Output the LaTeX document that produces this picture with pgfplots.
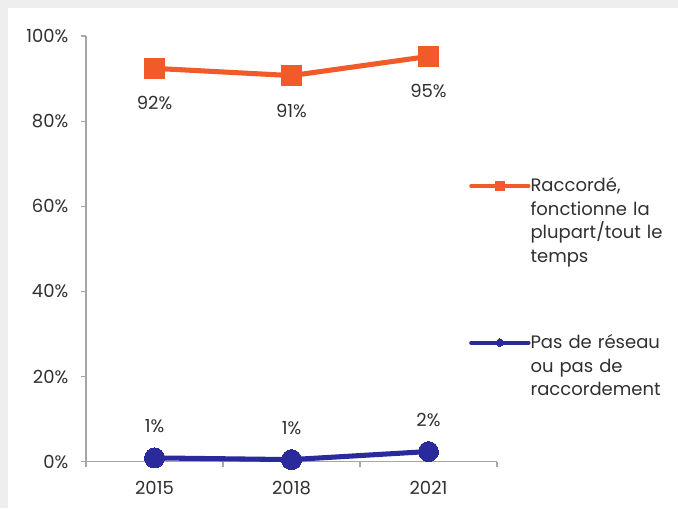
\documentclass[border=0pt]{standalone}
\usepackage{fontspec}
\setmainfont{Poppins}
\usepackage{pgfplots}
\pgfplotsset{compat=1.18}
\definecolor{orangeS}{HTML}{F15A29}
\definecolor{navyS}{HTML}{2A2A9C}
\definecolor{bandgray}{HTML}{EEEEEE}
\definecolor{axisgray}{HTML}{A6A6A6}
\definecolor{txt}{HTML}{303030}
\begin{document}
\begin{tikzpicture}
\fill[bandgray] (0,0) rectangle (508.5pt,381pt);
\fill[white] (6pt,0) rectangle (508.5pt,375pt);
\begin{axis}[
  at={(64.5pt,34.7pt)}, anchor=south west,
  scale only axis, width=308.25pt, height=319.3pt,
  xmin=-0.5, xmax=2.5, ymin=0, ymax=100,
  axis x line*=bottom, axis y line*=left,
  axis line style={axisgray, line width=0.9pt},
  every tick/.style={axisgray, line width=0.9pt},
  tick align=outside, major tick length=3.75pt,
  xtick={-0.5,0.5,1.5,2.5}, xticklabels={},
  extra x ticks={0,1,2}, extra x tick labels={2015,2018,2021},
  extra x tick style={major tick length=0pt},
  ytick={0,20,40,60,80,100},
  yticklabel={\pgfmathprintnumber{\tick}\%},
  /pgf/number format/assume math mode=true,
  font=\fontsize{13.5}{17.6}\selectfont,
  tick label style={txt, font=\fontsize{13.5}{17.6}\selectfont},
  every x tick label/.append style={yshift=-11pt},
  every y tick label/.append style={xshift=-6pt},
  clip=false,
  nodes near coords, point meta=explicit symbolic,
  every node near coord/.append style={txt, font=\fontsize{13.5}{17.6}\selectfont, inner sep=0pt, anchor=center},
  legend style={at={(0.922,0.6736)}, anchor=north west, draw=none, fill=none,
    font=\fontsize{13.5}{17.6}\selectfont, text=txt, row sep=105.5pt,
    nodes={align=left, inner sep=0pt, text width=110pt}},
  legend cell align=left,
  legend image code/.code={%
    \draw[#1, line width=3pt, line cap=round, mark repeat=2, mark phase=2]
      plot coordinates {(0pt,0pt)(21.5pt,0pt)(43pt,0pt)};},
]
\addplot[orangeS, line width=3.8pt, line cap=round, mark=square*, mark size=7.5pt,
  mark options={solid, line width=0pt},
  every node near coord/.append style={yshift=-26.25pt},
  legend image post style={mark size=3.2pt}]
  coordinates {(0,92.4)[92\%] (1,90.7)[91\%] (2,95.2)[95\%]};
\addlegendentry{Raccordé,\\fonctionne la\\plupart/tout le\\temps}
\addplot[navyS, line width=3.8pt, line cap=round, mark=*, mark size=7.5pt,
  mark options={solid, line width=0pt},
  every node near coord/.append style={yshift=24pt},
  legend image post style={mark size=2.8pt}]
  coordinates {(0,0.9)[1\%] (1,0.5)[1\%] (2,2.4)[2\%]};
\addlegendentry{Pas de réseau\\ou pas de\\raccordement}
\end{axis}
\pgfresetboundingbox
\useasboundingbox (0,0) rectangle (508.5pt,381pt);
\end{tikzpicture}
\end{document}
